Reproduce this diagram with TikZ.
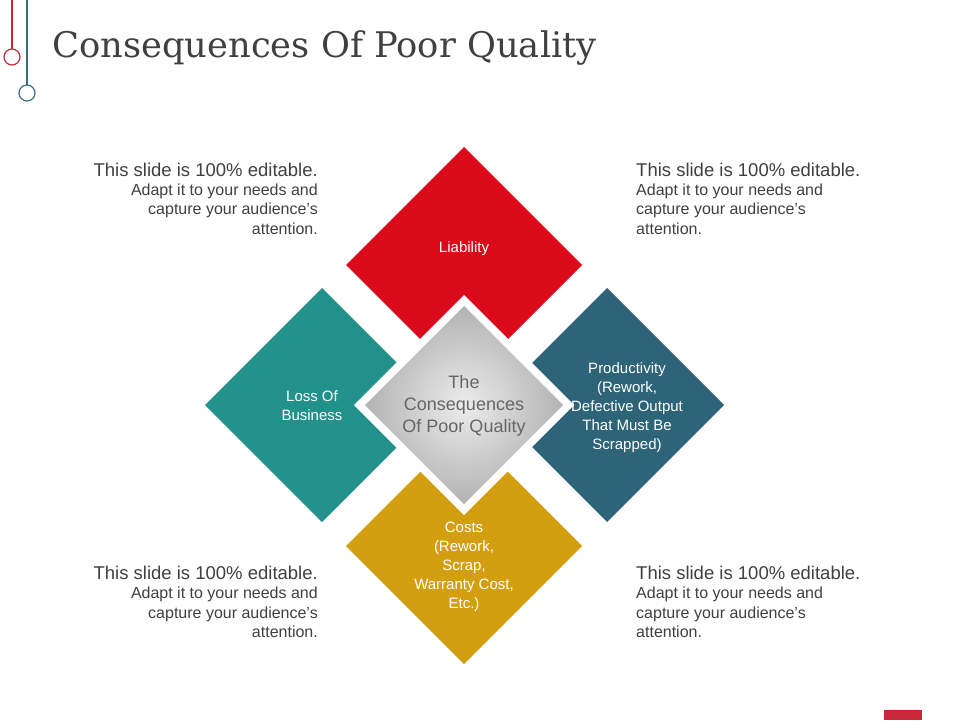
\documentclass[tikz,border=0pt]{standalone}
\usepackage{fontspec}
\setmainfont{Liberation Sans}
\newfontfamily\titlefont{DejaVu Serif}
\definecolor{cred}{HTML}{DA0A1B}
\definecolor{cteal}{HTML}{22918B}
\definecolor{cblue}{HTML}{2D6478}
\definecolor{cgold}{HTML}{D39E10}
\definecolor{ctext}{HTML}{404040}
\definecolor{clred}{HTML}{C8283A}
\definecolor{clblue}{HTML}{3A6E84}
\begin{document}
\begin{tikzpicture}[x=1pt,y=-1pt,
  lbl/.style={text=white,font=\fontsize{15}{19}\selectfont,align=center},
  head/.style={font=\fontsize{18.5}{22}\selectfont,text=ctext,inner sep=0pt},
  body/.style={font=\fontsize{16}{19.2}\selectfont,text=ctext,inner sep=0pt}]
\useasboundingbox (0,0) rectangle (960,720);
% decoration
\draw[clred,line width=1.2pt] (12,0) -- (12,49);
\draw[clred,line width=1.2pt] (12,57) circle (8);
\draw[clblue,line width=1.2pt] (27,0) -- (27,85);
\draw[clblue,line width=1.2pt] (27,93) circle (8);
\node[anchor=base west,inner sep=0pt,text=ctext,font=\titlefont\fontsize{35.3}{40}\selectfont] (title) at (52,57) {Consequences Of Poor Quality};
% diamonds
\fill[cred] (464,147) -- (582,265) -- (464,383) -- (346,265) -- cycle;
\fill[cteal] (322,288) -- (439,405) -- (322,522) -- (205,405) -- cycle;
\fill[cblue] (607,288) -- (724,405) -- (607,522) -- (490,405) -- cycle;
\fill[cgold] (464,428) -- (582,546) -- (464,664) -- (346,546) -- cycle;
\fill[white] (464,295) -- (574,405) -- (464,515) -- (354,405) -- cycle;
\shade[inner color=gray!15,outer color=gray!60] (464,306) -- (563,405) -- (464,504) -- (365,405) -- cycle;
\node[lbl] (liab) at (464,249) {Liability};
\node[lbl] (loss) at (312,406) {Loss Of\\Business};
\node[lbl] (prod) at (627,408) {Productivity\\(Rework,\\Defective Output\\That Must Be\\Scrapped)};
\node[lbl] (cost) at (464,567) {Costs\\(Rework,\\Scrap,\\Warranty Cost,\\Etc.)};
\node[text=ctext!80,align=center,font=\fontsize{18}{22}\selectfont] (center) at (464,406) {The\\Consequences\\Of Poor Quality};
% text blocks
\node[head,anchor=base east] (h1) at (318,176) {This slide is 100\% editable.};
\node[body,anchor=north east,align=right] (b1) at (318,184) {Adapt it to your needs and\\capture your audience's\\attention.};
\node[head,anchor=base west] (h2) at (636,176) {This slide is 100\% editable.};
\node[body,anchor=north west,align=left] (b2) at (636,184) {Adapt it to your needs and\\capture your audience's\\attention.};
\node[head,anchor=base east] (h3) at (318,579) {This slide is 100\% editable.};
\node[body,anchor=north east,align=right] (b3) at (318,587) {Adapt it to your needs and\\capture your audience's\\attention.};
\node[head,anchor=base west] (h4) at (636,579) {This slide is 100\% editable.};
\node[body,anchor=north west,align=left] (b4) at (636,587) {Adapt it to your needs and\\capture your audience's\\attention.};
\fill[clred] (884,710) rectangle (922,720);
\end{tikzpicture}
\end{document}
